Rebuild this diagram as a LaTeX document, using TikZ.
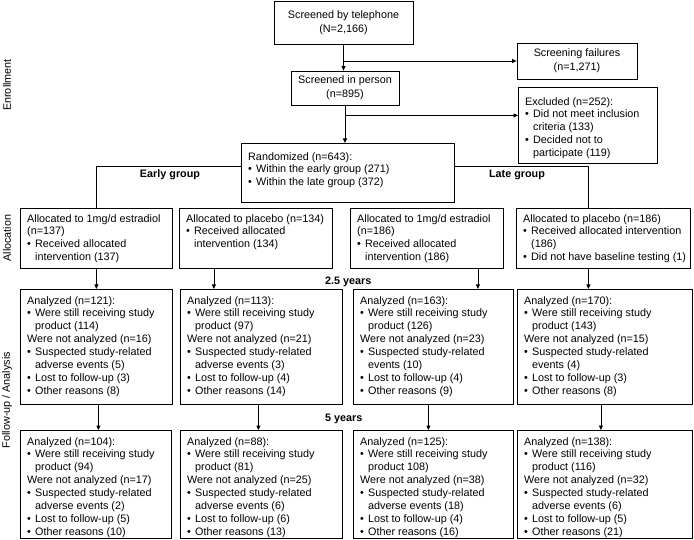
\documentclass[tikz,border=0pt]{standalone}
\usepackage{fontspec}
\setmainfont{Liberation Sans}
\usetikzlibrary{arrows.meta,positioning}

\newcommand{\fbul}{\makebox[8pt][l]{\textbullet}}
\newcommand{\fcont}{\hspace*{8pt}}
% box drawn at its top left corner, text placed inside from the top
\newcommand{\flowbox}[7][7pt]{%
  \node[box, anchor=north west, minimum width=#5, minimum height=#6] (#2) at (#3,#4) {};
  \node[boxtext] (#2-t) at ([xshift=7pt,yshift=-#1]#2.north west) {#7};
}

\tikzset{
  box/.style={draw, line width=0.8pt, inner sep=0pt},
  boxtext/.style={anchor=north west, align=left, inner sep=0pt},
  arr/.style={line width=0.8pt, -{Triangle[length=4.5pt,width=4pt]}},
  link/.style={line width=0.8pt},
  phase/.style={rotate=90, inner sep=0pt},
  grp/.style={font=\bfseries\fontsize{10.8}{12.9}\selectfont, inner sep=0pt},
}

\begin{document}
\begin{tikzpicture}[x=1pt, y=-1pt, font=\fontsize{10.8}{12.9}\selectfont]
  \useasboundingbox (0,0) rectangle (694,540);

  % enrollment
  \node[box, align=center, minimum width=139, minimum height=43] (tel) at (343.5,22.5)
    {Screened by telephone\\[1.4pt](N=2,166)};
  \node[box, align=center, minimum width=120, minimum height=36] (fail) at (577,61)
    {Screening failures\\[1.4pt](n=1,271)};
  \node[box, align=center, minimum width=108, minimum height=34] (person) at (345,88)
    {Screened in person\\[1.4pt](n=895)};
  \flowbox[10pt]{excl}{518}{87}{139}{76}{Excluded (n=252):\\
    \fbul Did not meet inclusion\\ \fcont criteria (133)\\
    \fbul Decided not to\\ \fcont participate (119)}
  \flowbox[9pt]{rand}{241}{143}{213}{59}{Randomized (n=643):\\
    \fbul Within the early group (271)\\ \fbul Within the late group (372)}

  \draw[arr] (tel.south) -- (tel.south |- person.north);
  \draw[arr] (tel.south |- fail.west) -- (fail.west);
  \coordinate (exclin) at ([yshift=10pt]excl.west);
  \draw[arr] (person.south |- exclin) -- (exclin);
  \draw[arr] (person.south) -- (person.south |- rand.north);

  \node[grp] (early) at (170,175) {Early group};
  \node[grp] (late) at (517,175) {Late group};

  % allocation
  \flowbox[6pt]{a1}{20}{208}{152}{60}{Allocated to 1mg/d estradiol\\ (n=137)\\
    \fbul Received allocated\\ \fcont intervention (137)}
  \flowbox[6pt]{a2}{179}{208}{153}{60}{Allocated to placebo (n=134)\\
    \fbul Received allocated\\ \fcont intervention (134)}
  \flowbox[6pt]{a3}{350}{208}{153}{60}{Allocated to 1mg/d estradiol\\ (n=186)\\
    \fbul Received allocated\\ \fcont intervention (186)}
  \flowbox[6pt]{a4}{516}{208}{174}{60}{Allocated to placebo (n=186)\\
    \fbul Received allocated intervention\\ \fcont (186)\\
    \fbul Did not have baseline testing (1)}

  \coordinate (randl) at ([yshift=6.5pt]rand.west);
  \coordinate (randr) at ([yshift=6.5pt]rand.east);
  \draw[link] (randl) -| (a1.north);
  \draw[link] (randr) -| ([xshift=-15pt]a4.north);

  \node[grp, anchor=west] (yr25) at (325,282) {2.5 years};

  % follow-up at 2.5 years
  \flowbox{b1}{20}{289}{152}{115}{Analyzed (n=121):\\
    \fbul Were still receiving study\\ \fcont product (114)\\
    Were not analyzed (n=16)\\
    \fbul Suspected study-related\\ \fcont adverse events (5)\\
    \fbul Lost to follow-up (3)\\ \fbul Other reasons (8)}
  \flowbox{b2}{180}{289}{162}{115}{Analyzed (n=113):\\
    \fbul Were still receiving study\\ \fcont product (97)\\
    Were not analyzed (n=21)\\
    \fbul Suspected study-related\\ \fcont adverse events (3)\\
    \fbul Lost to follow-up (4)\\ \fbul Other reasons (14)}
  \flowbox{b3}{353}{289}{160}{115}{Analyzed (n=163):\\
    \fbul Were still receiving study\\ \fcont product (126)\\
    Were not analyzed (n=23)\\
    \fbul Suspected study-related\\ \fcont events (10)\\
    \fbul Lost to follow-up (4)\\ \fbul Other reasons (9)}
  \flowbox{b4}{517}{289}{175}{115}{Analyzed (n=170):\\
    \fbul Were still receiving study\\ \fcont product (143)\\
    Were not analyzed (n=15)\\
    \fbul Suspected study-related\\ \fcont events (4)\\
    \fbul Lost to follow-up (3)\\ \fbul Other reasons (8)}

  \draw[arr] (a1.south) -- (a1.south |- b1.north);
  \draw[arr] ([xshift=-42pt]a2.south) -- ([xshift=-42pt]a2.south |- b2.north);
  \draw[arr] ([xshift=51pt]a3.south) -- ([xshift=51pt]a3.south |- b3.north);
  \draw[arr] ([xshift=-15pt]a4.south) -- ([xshift=-15pt]a4.south |- b4.north);

  \node[grp, anchor=west] (yr5) at (325,419) {5 years};

  % follow-up at 5 years
  \flowbox{c1}{20}{430}{151}{108}{Analyzed (n=104):\\
    \fbul Were still receiving study\\ \fcont product (94)\\
    Were not analyzed (n=17)\\
    \fbul Suspected study-related\\ \fcont adverse events (2)\\
    \fbul Lost to follow-up (5)\\ \fbul Other reasons (10)}
  \flowbox{c2}{180}{430}{162}{108}{Analyzed (n=88):\\
    \fbul Were still receiving study\\ \fcont product (81)\\
    Were not analyzed (n=25)\\
    \fbul Suspected study-related\\ \fcont adverse events (6)\\
    \fbul Lost to follow-up (6)\\ \fbul Other reasons (13)}
  \flowbox{c3}{353}{430}{160}{108}{Analyzed (n=125):\\
    \fbul Were still receiving study\\ \fcont product 108)\\
    Were not analyzed (n=38)\\
    \fbul Suspected study-related\\ \fcont adverse events (18)\\
    \fbul Lost to follow-up (4)\\ \fbul Other reasons (16)}
  \flowbox{c4}{517}{430}{175}{108}{Analyzed (n=138):\\
    \fbul Were still receiving study\\ \fcont product (116)\\
    Were not analyzed (n=32)\\
    \fbul Suspected study-related\\ \fcont adverse events (6)\\
    \fbul Lost to follow-up (5)\\ \fbul Other reasons (21)}

  \draw[arr] ([xshift=2pt]b1.south) -- ([xshift=2pt]b1.south |- c1.north);
  \draw[arr] ([xshift=-3pt]b2.south) -- ([xshift=-3pt]b2.south |- c2.north);
  \draw[arr] ([xshift=-5pt]b3.south) -- ([xshift=-5pt]b3.south |- c3.north);
  \draw[arr] ([xshift=-4pt]b4.south) -- ([xshift=-4pt]b4.south |- c4.north);

  % phase labels on the left
  \node[phase] (enrol) at (7,85) {Enrollment};
  \node[phase] (alloc) at (7,238) {Allocation};
  \node[phase] (follow) at (7,400) {Follow-up / Analysis};
\end{tikzpicture}
\end{document}
